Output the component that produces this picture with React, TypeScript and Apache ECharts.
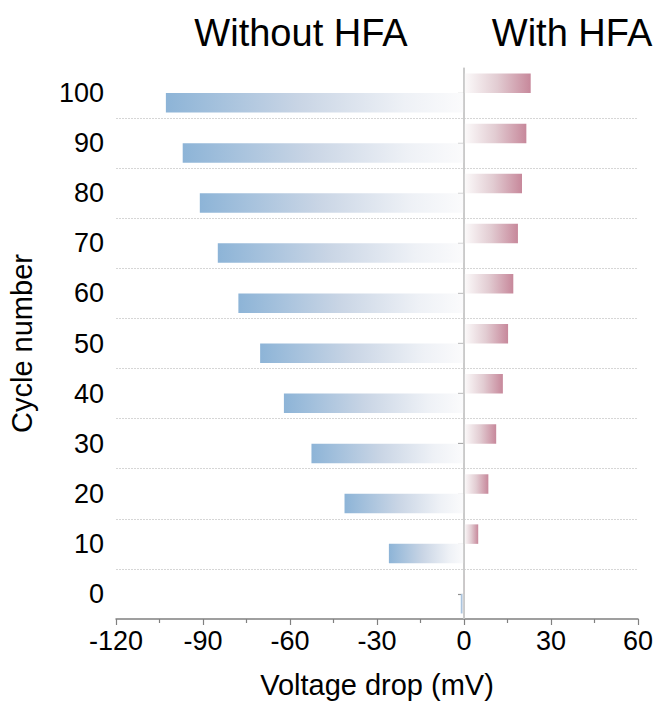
import React, { useEffect, useRef } from "react";
import * as echarts from "echarts";

// Cycle numbers on the vertical axis
const cycles = ["0", "10", "20", "30", "40", "50", "60", "70", "80", "90", "100"];
// Voltage drop (mV) per cycle
const withoutHFA = [-1.1, -25.9, -41.2, -52.6, -62.1, -70.3, -77.8, -84.9, -91.1, -97.0, -102.8];
const withHFA = [0.3, 4.9, 8.4, 11.1, 13.4, 15.2, 17.0, 18.6, 20.0, 21.5, 23.0];
// Horizontal axis range
const xMin = -120;
const xMax = 60;
const xStep = 30;

const FONT = "'Liberation Sans', Arial, Helvetica, sans-serif";

export default function App() {
  const ref = useRef<HTMLDivElement>(null);

  useEffect(() => {
    if (!ref.current) return;
    const chart = echarts.init(ref.current, undefined, { renderer: "svg" });

    // Each bar fades towards the zero line
    const blueFill = new echarts.graphic.LinearGradient(0, 0, 1, 0, [
      { offset: 0, color: "#8db4d7" },
      { offset: 0.45, color: "#c9d5e5" },
      { offset: 0.8, color: "#eef1f6" },
      { offset: 1, color: "#fbfbfc" },
    ]);
    const redFill = new echarts.graphic.LinearGradient(0, 0, 1, 0, [
      { offset: 0, color: "#fcfbfb" },
      { offset: 0.5, color: "#e2ccd2" },
      { offset: 1, color: "#c7889b" },
    ]);

    chart.setOption({
      animation: false,
      backgroundColor: "#ffffff",
      textStyle: { fontFamily: FONT },
      grid: {
        left: 116,
        right: 23,
        top: 68,
        bottom: 87,
        outerBoundsMode: "none",
        containLabel: false,
      },
      graphic: [
        {
          type: "text",
          x: 301,
          y: 33,
          style: {
            text: "Without HFA",
            font: `38px ${FONT}`,
            fill: "#000",
            textAlign: "center",
            textVerticalAlign: "middle",
          },
        },
        {
          type: "text",
          x: 572,
          y: 33,
          style: {
            text: "With HFA",
            font: `38px ${FONT}`,
            fill: "#000",
            textAlign: "center",
            textVerticalAlign: "middle",
          },
        },
      ],
      xAxis: {
        type: "value",
        min: xMin,
        max: xMax,
        interval: xStep,
        name: "Voltage drop (mV)",
        nameLocation: "middle",
        nameGap: 51,
        nameTextStyle: { fontSize: 29, color: "#000", fontFamily: FONT },
        axisLine: { show: true, lineStyle: { color: "#808080", width: 1.5 } },
        axisTick: { show: true, length: 6, lineStyle: { color: "#808080", width: 1.2 } },
        minorTick: { show: true, splitNumber: 2, length: 4, lineStyle: { color: "#808080", width: 1.2 } },
        splitLine: { show: false },
        axisLabel: { fontSize: 27, color: "#000", margin: 8, fontFamily: FONT },
      },
      yAxis: {
        type: "category",
        data: cycles,
        name: "Cycle number",
        nameLocation: "middle",
        nameRotate: 90,
        nameGap: 80,
        nameTextStyle: { fontSize: 29, color: "#000", fontFamily: FONT },
        axisLine: { show: true, lineStyle: { color: "#cccccc", width: 1.5 } },
        axisTick: { show: true, alignWithLabel: true, length: 6, lineStyle: { color: "#909090", width: 1.2 } },
        axisLabel: { fontSize: 27, color: "#000", margin: 12, fontFamily: FONT },
        splitLine: {
          show: true,
          showMinLine: false,
          showMaxLine: false,
          lineStyle: { color: "#d6d6d6", type: [2, 1], width: 1 },
        },
      },
      series: [
        {
          name: "With HFA",
          type: "bar",
          data: withHFA,
          barWidth: 19.5,
          barGap: "0%",
          itemStyle: { color: redFill },
          markLine: {
            silent: true,
            symbol: "none",
            label: { show: false },
            lineStyle: { color: "#c8c8c8", width: 1.7, type: "solid" },
            data: [{ xAxis: 0 }],
          },
        },
        {
          name: "Without HFA",
          type: "bar",
          data: withoutHFA,
          barWidth: 19.5,
          barGap: "0%",
          itemStyle: { color: blueFill },
        },
      ],
    });

    return () => chart.dispose();
  }, []);

  return (
    <div
      ref={ref}
      style={{ position: "fixed", left: 0, top: 0, width: 661, height: 706 }}
    />
  );
}
